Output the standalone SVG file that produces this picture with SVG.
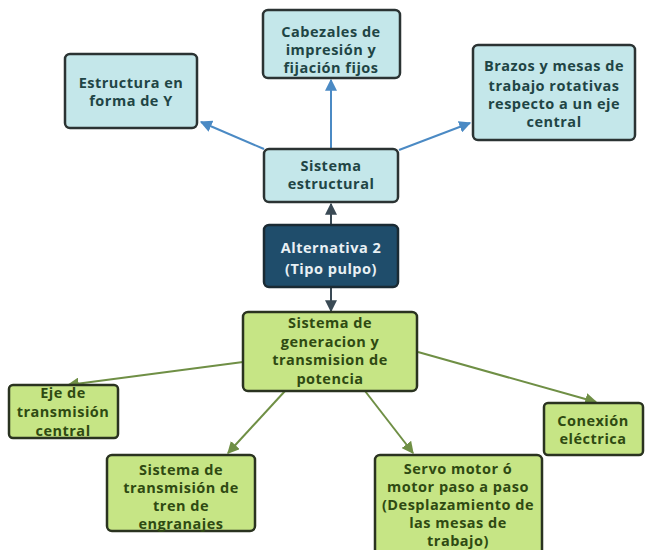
<svg xmlns="http://www.w3.org/2000/svg" width="647" height="550" viewBox="0 0 647 550">
  <style>
    .box-c { fill: #c4e7ea; stroke: #2b3333; stroke-width: 2.5; }
    .box-d { fill: #1f4d6b; stroke: #1a2a33; stroke-width: 2.5; }
    .box-g { fill: #c6e585; stroke: #2a3320; stroke-width: 2.5; }
    text { font-family: "Open Sans", "Liberation Sans", Arial, sans-serif; font-weight: 700; font-size: 14.5px; text-anchor: middle; letter-spacing: 0.5px; }
    .t-c { fill: #1f4545; }
    .t-d { fill: #e8f0f4; }
    .t-g { fill: #2f4a12; }
    .ln-b { stroke: #4b8ac4; stroke-width: 2; fill: none; }
    .ln-d { stroke: #3a4a55; stroke-width: 2; fill: none; }
    .ln-g { stroke: #6f8f45; stroke-width: 2; fill: none; }
  </style>
  <defs>
    <marker id="ab" viewBox="0 0 10 10" refX="9" refY="5" markerWidth="6" markerHeight="6" orient="auto">
      <path d="M0,0 L10,5 L0,10 z" fill="#4b8ac4"/>
    </marker>
    <marker id="ad" viewBox="0 0 10 10" refX="9" refY="5" markerWidth="6" markerHeight="6" orient="auto">
      <path d="M0,0 L10,5 L0,10 z" fill="#3a4a55"/>
    </marker>
    <marker id="ag" viewBox="0 0 10 10" refX="9" refY="5" markerWidth="6" markerHeight="6" orient="auto">
      <path d="M0,0 L10,5 L0,10 z" fill="#6f8f45"/>
    </marker>
  </defs>
  <rect width="647" height="550" fill="#ffffff"/>

  <g id="connectors">
    <line class="ln-b" x1="331" y1="149" x2="331" y2="80" marker-end="url(#ab)"/>
    <line class="ln-b" x1="264" y1="149" x2="201" y2="122" marker-end="url(#ab)"/>
    <line class="ln-b" x1="399" y1="150" x2="470" y2="123" marker-end="url(#ab)"/>
    <line class="ln-d" x1="331" y1="225" x2="331" y2="204" marker-end="url(#ad)"/>
    <line class="ln-d" x1="331" y1="287" x2="331" y2="311" marker-end="url(#ad)"/>
    <line class="ln-g" x1="243" y1="362" x2="68" y2="385" marker-end="url(#ag)"/>
    <line class="ln-g" x1="285" y1="391" x2="228" y2="453" marker-end="url(#ag)"/>
    <line class="ln-g" x1="365" y1="391" x2="413" y2="453" marker-end="url(#ag)"/>
    <line class="ln-g" x1="418" y1="352" x2="596" y2="402" marker-end="url(#ag)"/>
  </g>

  <g id="estructura-y">
    <rect class="box-c" x="65" y="54" width="132" height="74" rx="5"/>
    <text class="t-c" x="131" y="88">Estructura en</text>
    <text class="t-c" x="131" y="106">forma de Y</text>
  </g>

  <g id="cabezales">
    <rect class="box-c" x="263" y="10" width="137" height="68" rx="5"/>
    <text class="t-c" x="331" y="37">Cabezales de</text>
    <text class="t-c" x="331" y="55">impresión y</text>
    <text class="t-c" x="331" y="73">fijación fijos</text>
  </g>

  <g id="brazos">
    <rect class="box-c" x="473" y="45" width="162" height="95" rx="5"/>
    <text class="t-c" x="554" y="71">Brazos y mesas de</text>
    <text class="t-c" x="554" y="91">trabajo rotativas</text>
    <text class="t-c" x="554" y="109">respecto a un eje</text>
    <text class="t-c" x="554" y="127">central</text>
  </g>

  <g id="sistema-estructural">
    <rect class="box-c" x="264" y="149" width="134" height="53" rx="5"/>
    <text class="t-c" x="331" y="171">Sistema</text>
    <text class="t-c" x="331" y="189">estructural</text>
  </g>

  <g id="alternativa">
    <rect class="box-d" x="264" y="225" width="134" height="62" rx="5"/>
    <text class="t-d" x="331" y="253">Alternativa 2</text>
    <text class="t-d" x="331" y="274">(Tipo pulpo)</text>
  </g>

  <g id="sistema-generacion">
    <rect class="box-g" x="243" y="312" width="174" height="79" rx="5"/>
    <text class="t-g" x="330" y="328">Sistema de</text>
    <text class="t-g" x="330" y="347">generacion y</text>
    <text class="t-g" x="330" y="365">transmision de</text>
    <text class="t-g" x="330" y="384">potencia</text>
  </g>

  <g id="eje-transmision">
    <rect class="box-g" x="9" y="385" width="109" height="53" rx="4"/>
    <text class="t-g" x="63" y="398">Eje de</text>
    <text class="t-g" x="63" y="417">transmisión</text>
    <text class="t-g" x="63" y="436">central</text>
  </g>

  <g id="tren-engranajes">
    <rect class="box-g" x="107" y="455" width="148" height="76" rx="5"/>
    <text class="t-g" x="181" y="475">Sistema de</text>
    <text class="t-g" x="181" y="493">transmisión de</text>
    <text class="t-g" x="181" y="511">tren de</text>
    <text class="t-g" x="181" y="529">engranajes</text>
  </g>

  <g id="servo-motor">
    <rect class="box-g" x="375" y="455" width="167" height="100" rx="5"/>
    <text class="t-g" x="458" y="474">Servo motor ó</text>
    <text class="t-g" x="458" y="492">motor paso a paso</text>
    <text class="t-g" x="458" y="510">(Desplazamiento de</text>
    <text class="t-g" x="458" y="528">las mesas de</text>
    <text class="t-g" x="458" y="546">trabajo)</text>
  </g>

  <g id="conexion-electrica">
    <rect class="box-g" x="544" y="403" width="99" height="52" rx="4"/>
    <text class="t-g" x="593" y="426">Conexión</text>
    <text class="t-g" x="593" y="444">eléctrica</text>
  </g>
</svg>
